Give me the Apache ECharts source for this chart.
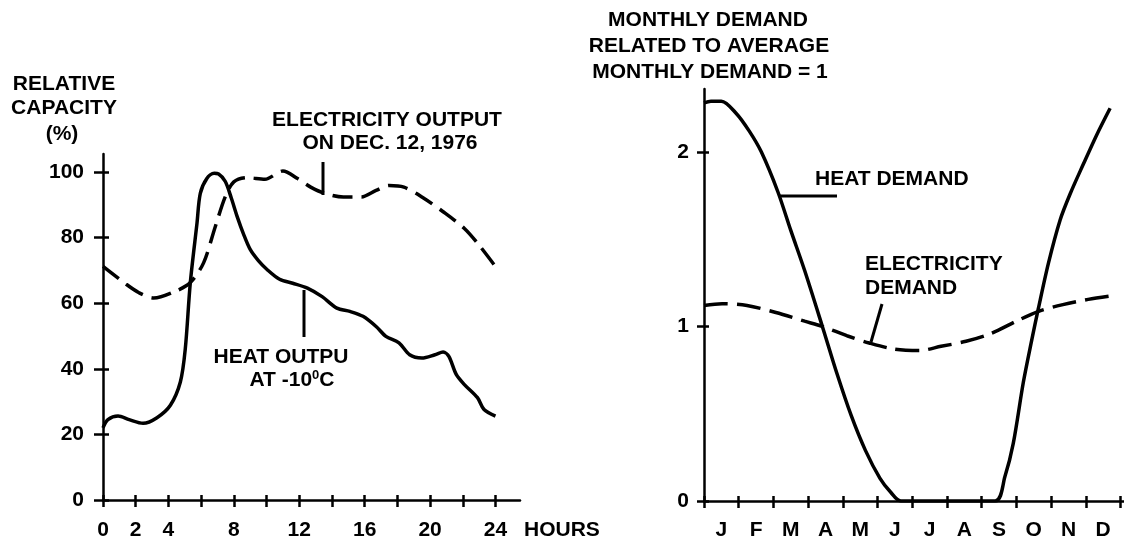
<!DOCTYPE html>
<html>
<head>
<meta charset="utf-8">
<script src="https://cdn.jsdelivr.net/npm/echarts@6/dist/echarts.min.js"></script>
<style>
  html, body { margin: 0; padding: 0; background: #fff; }
  #chart { width: 1124px; height: 541px; }
</style>
</head>
<body>
<div id="chart"></div>
<script>
// left panel: relative capacity (%) over the day
var hourTicks = [0, 2, 4, 6, 8, 10, 12, 14, 16, 18, 20, 22, 24]
var hourLabels = [0, 2, 4, 8, 12, 16, 20, 24]
var capacityTicks = [0, 20, 40, 60, 80, 100]

var elecHours = [0, 1.36, 2.2, 3.1, 4.5, 5.34, 6.15, 6.87, 7.48, 8.0, 8.8, 9.9, 11.0, 11.9, 12.7, 13.5, 14.7, 15.8, 16.7, 17.5, 18.4, 19.5, 20.8, 22.1, 23.0, 24]
var elecOutput = [71.2, 66, 63.2, 61.6, 63.8, 66.3, 72.3, 83.4, 92.5, 97, 98.3, 97.8, 100.3, 98, 95.4, 93.6, 92.4, 92.4, 94.4, 95.9, 95.4, 92.4, 87.9, 82.8, 77.7, 71.2]

var heatHours = [0, 0.3, 0.92, 1.6, 2.45, 3.3, 4.12, 4.73, 5.03, 5.34, 5.75, 5.95, 6.36, 6.8, 7.07, 7.48, 7.85, 8.2, 8.6, 9.0, 9.5, 10.03, 10.8, 11.6, 12.5, 13.4, 14.3, 15.1, 15.9, 16.7, 17.3, 18.1, 18.75, 19.5, 20.3, 20.8, 21.15, 21.6, 22.1, 22.9, 23.3, 24]
var heatOutput = [22, 24.5, 25.6, 24.5, 23.4, 25.1, 28.9, 36, 46, 66.3, 84.5, 93.5, 98.1, 99.6, 99.4, 97.1, 92, 86.5, 81, 76.4, 73, 70.3, 67.3, 66.1, 64.6, 62, 58.5, 57.5, 56, 52.9, 49.9, 47.9, 44.3, 43.3, 44.3, 45.1, 43.8, 38.3, 35.2, 31.2, 27.6, 25.6]

// right panel: monthly demand relative to average (= 1)
var months = ['J', 'F', 'M', 'A', 'M', 'J', 'J', 'A', 'S', 'O', 'N', 'D']
var monthTicks = [0, 1, 2, 3, 4, 5, 6, 7, 8, 9, 10, 11, 12]
var monthLabelPos = [0.5, 1.5, 2.5, 3.5, 4.5, 5.5, 6.5, 7.5, 8.5, 9.5, 10.5, 11.5]
var demandTicks = [0, 1, 2]

var heatMonth = [0, 0.2, 0.5, 0.93, 1.3, 1.65, 2.13, 2.5, 2.9, 3.41, 3.83, 4.24, 4.65, 5.07, 5.38, 5.67, 8.39, 8.67, 8.91, 9.2, 9.44, 9.63, 9.92, 10.26, 10.55, 10.93, 11.32, 11.7]
var heatDemand = [2.28, 2.29, 2.29, 2.22, 2.12, 2.0, 1.77, 1.55, 1.32, 1.0, 0.73, 0.49, 0.29, 0.13, 0.05, 0, 0, 0.14, 0.33, 0.68, 0.92, 1.1, 1.36, 1.61, 1.76, 1.93, 2.1, 2.25]

var elecMonth = [0, 0.52, 1.24, 2.07, 2.9, 3.41, 4.14, 4.76, 5.48, 6.2, 6.83, 7.55, 8.27, 9.0, 9.62, 10.34, 11.07, 11.9]
var elecDemand = [1.12, 1.13, 1.12, 1.08, 1.03, 1.0, 0.945, 0.905, 0.87, 0.862, 0.886, 0.915, 0.96, 1.03, 1.085, 1.125, 1.155, 1.18]

function pairs(xs, ys) {
  return xs.map(function (x, i) { return [x, ys[i]] })
}

var FONT = '"Liberation Sans", Arial, sans-serif'
var INK = '#000'
var labelStyle = { color: INK, fontSize: 21, fontWeight: 'bold', fontFamily: FONT }
var axisPen = { color: INK, width: 2.5 }

// each axis is drawn twice so the ticks cross the line (outside + inside)
function valueAxis(gridIndex, pos, min, max, ticks, tickLen, inside, label) {
  return {
    type: 'value',
    gridIndex: gridIndex,
    position: pos,
    min: min,
    max: max,
    axisLine: { show: !inside, onZero: false, lineStyle: axisPen },
    axisTick: { show: true, inside: inside, length: tickLen, customValues: ticks, lineStyle: axisPen },
    axisLabel: label ? label : { show: false },
    splitLine: { show: false }
  }
}

var chart = echarts.init(document.getElementById('chart'))

function text(str, x, y, align) {
  return {
    type: 'text',
    style: {
      text: str, x: x, y: y,
      fill: INK,
      font: 'bold 21px ' + FONT,
      align: align || 'center', verticalAlign: 'middle',
      textAlign: align || 'center', textVerticalAlign: 'middle'
    }
  }
}
function line(x1, y1, x2, y2) {
  return {
    type: 'line',
    shape: { x1: x1, y1: y1, x2: x2, y2: y2 },
    style: { stroke: INK, lineWidth: 3 }
  }
}

chart.setOption({
  backgroundColor: '#fff',
  animation: false,
  grid: [
    { left: 103, top: 154, width: 417, height: 348 },
    { left: 704, top: 89, width: 420, height: 413 }
  ],
  xAxis: [
    valueAxis(0, 'bottom', 0, 25.5, hourTicks, 7, false,
      Object.assign({ customValues: hourLabels, margin: 20 }, labelStyle)),
    valueAxis(0, 'bottom', 0, 25.5, hourTicks, 5, true),
    valueAxis(1, 'bottom', 0, 12.1, monthTicks, 7, false,
      Object.assign({
        customValues: monthLabelPos, margin: 19,
        formatter: function (v) { return months[Math.floor(v)] }
      }, labelStyle)),
    valueAxis(1, 'bottom', 0, 12.1, monthTicks, 5, true)
  ],
  yAxis: [
    valueAxis(0, 'left', 0, 105.5, capacityTicks, 9, false,
      Object.assign({ customValues: capacityTicks, margin: 19 }, labelStyle)),
    valueAxis(0, 'left', 0, 105.5, capacityTicks, 6, true),
    valueAxis(1, 'left', 0, 2.36, demandTicks, 7, false,
      Object.assign({ customValues: demandTicks, margin: 15 }, labelStyle)),
    valueAxis(1, 'left', 0, 2.36, demandTicks, 5, true)
  ],
  series: [
    {
      name: 'Electricity output', type: 'line', xAxisIndex: 0, yAxisIndex: 0,
      data: pairs(elecHours, elecOutput), showSymbol: false,
      smooth: 0.3,
      lineStyle: { color: INK, width: 3.5, type: [20, 9] }
    },
    {
      name: 'Heat output', type: 'line', xAxisIndex: 0, yAxisIndex: 0,
      data: pairs(heatHours, heatOutput), showSymbol: false,
      smooth: 0.3,
      lineStyle: { color: INK, width: 3.5 }
    },
    {
      name: 'Heat demand', type: 'line', xAxisIndex: 2, yAxisIndex: 2,
      data: pairs(heatMonth, heatDemand), showSymbol: false,
      smooth: 0.3,
      lineStyle: { color: INK, width: 3.5 }
    },
    {
      name: 'Electricity demand', type: 'line', xAxisIndex: 2, yAxisIndex: 2,
      data: pairs(elecMonth, elecDemand), showSymbol: false,
      smooth: 0.3,
      lineStyle: { color: INK, width: 3.5, type: [24, 9] }
    }
  ],
  graphic: [
    // left panel annotations
    text('RELATIVE', 64, 84),
    text('CAPACITY', 64, 108),
    text('(%)', 62, 134),
    text('ELECTRICITY OUTPUT', 387, 120),
    text('ON DEC. 12, 1976', 390, 143),
    line(323, 162, 323, 195),
    text('HEAT OUTPU', 281, 357),
    {
      type: 'text',
      style: {
        text: '{a|AT -10}{s|0}{a|C}', x: 292, y: 380,
        align: 'center', verticalAlign: 'middle',
        textAlign: 'center', textVerticalAlign: 'middle',
        rich: {
          a: { fill: INK, color: INK, fontSize: 21, fontWeight: 'bold', fontFamily: FONT, lineHeight: 22 },
          s: { fill: INK, color: INK, fontSize: 13, fontWeight: 'bold', fontFamily: FONT, lineHeight: 22, verticalAlign: 'top' }
        }
      }
    },
    line(304, 290, 304, 337),
    text('HOURS', 524, 530, 'left'),
    // right panel annotations
    text('MONTHLY DEMAND', 708, 20),
    text('RELATED TO AVERAGE', 709, 46),
    text('MONTHLY DEMAND = 1', 710, 72),
    text('HEAT DEMAND', 815, 179, 'left'),
    line(779, 196, 837, 196),
    text('ELECTRICITY', 865, 264, 'left'),
    text('DEMAND', 865, 288, 'left'),
    line(882, 304, 871, 342)
  ]
})
</script>
</body>
</html>
